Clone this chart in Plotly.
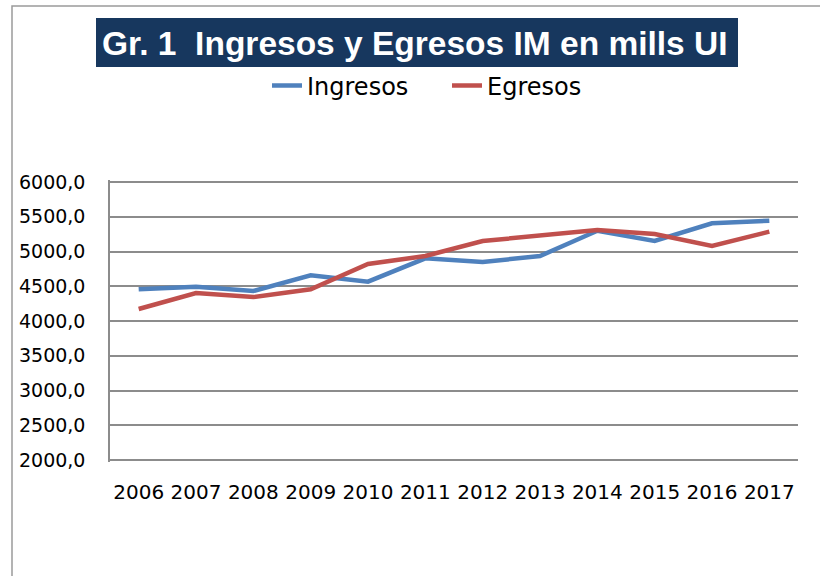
import plotly.graph_objects as go

years = ["2006", "2007", "2008", "2009", "2010", "2011", "2012", "2013", "2014", "2015", "2016", "2017"]
ingresos = [4456, 4494, 4432, 4657, 4566, 4902, 4849, 4935, 5299, 5151, 5405, 5443]
egresos = [4173, 4403, 4345, 4456, 4820, 4935, 5151, 5223, 5309, 5252, 5079, 5285]

y_ticks = [2000, 2500, 3000, 3500, 4000, 4500, 5000, 5500, 6000]
title_text = "Gr. 1  Ingresos y Egresos IM en mills UI"

L, R, T, B = 110, 798, 180, 462
W, H = 820, 576
Y0, Y1 = 1971.2, 6028.8

def px(x):
    return (x - L) / (R - L)

def py(y):
    return (B - y) / (B - T)

fig = go.Figure()
fig.add_trace(go.Scatter(x=years, y=ingresos, mode="lines", name="Ingresos",
                         line=dict(color="#4F81BD", width=4.5)))
fig.add_trace(go.Scatter(x=years, y=egresos, mode="lines", name="Egresos",
                         line=dict(color="#C0504D", width=4.5)))

fig.update_layout(
    width=W, height=H,
    margin=dict(l=L, r=W - R, t=T, b=H - B, pad=0),
    plot_bgcolor="white", paper_bgcolor="white",
    separators=",.",
    showlegend=True,
    legend=dict(orientation="h", x=px(447), xanchor="center", y=py(86), yanchor="middle",
                font=dict(family="DejaVu Sans", size=24, color="#000000"),
                bgcolor="rgba(0,0,0,0)", entrywidth=135, entrywidthmode="pixels",
                tracegroupgap=0),
    xaxis=dict(type="category", range=[-0.5, 11.5], showgrid=False, showline=False, zeroline=False,
               ticks="", ticklabelstandoff=16,
               tickfont=dict(family="DejaVu Sans", size=20, color="#000000")),
    yaxis=dict(range=[Y0, Y1], tickvals=y_ticks, tickformat=".1f",
               showgrid=True, gridcolor="#8C8C8C", gridwidth=1.5,
               showline=True, linecolor="#8C8C8C", linewidth=1.5,
               zeroline=False, ticks="", ticklabelstandoff=19,
               tickfont=dict(family="DejaVu Sans", size=19, color="#000000")),
    shapes=[
        dict(type="rect", xref="paper", yref="paper",
             x0=px(12), x1=px(830), y0=py(590), y1=py(6),
             line=dict(color="#9A9A9A", width=1.5), fillcolor="rgba(0,0,0,0)", layer="below"),
        dict(type="rect", xref="paper", yref="paper",
             x0=px(96), x1=px(738), y0=py(67), y1=py(18),
             line=dict(width=0), fillcolor="#17375E", layer="below"),
    ],
    annotations=[
        dict(text="<b>" + title_text + "</b>", xref="paper", yref="paper", x=px(415), y=py(43),
             xanchor="center", yanchor="middle", showarrow=False,
             font=dict(family="Liberation Sans", size=33.5, color="white"))
    ],
)

fig.write_html("out.html", config={"displayModeBar": False},
               post_script="document.body.style.margin='0';")
